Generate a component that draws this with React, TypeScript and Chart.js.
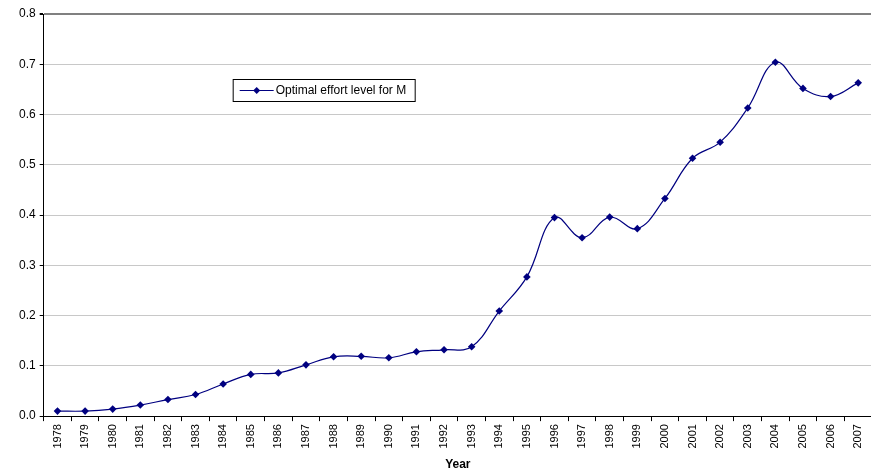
import React, { useEffect, useRef } from "react";
import { Chart, registerables } from "chart.js";

Chart.register(...registerables);

const years: string[] = [
  "1978", "1979", "1980", "1981", "1982", "1983", "1984", "1985", "1986", "1987",
  "1988", "1989", "1990", "1991", "1992", "1993", "1994", "1995", "1996", "1997",
  "1998", "1999", "2000", "2001", "2002", "2003", "2004", "2005", "2006", "2007",
];

const effortValues: number[] = [
  0.010, 0.010, 0.014, 0.022, 0.033, 0.043, 0.064, 0.083, 0.086, 0.102,
  0.118, 0.119, 0.116, 0.128, 0.132, 0.138, 0.209, 0.277, 0.395, 0.355,
  0.396, 0.373, 0.433, 0.513, 0.545, 0.613, 0.704, 0.652, 0.636, 0.663,
];

const seriesLabel = "Optimal effort level for M";
const xTitle = "Year";
const FONT = "'Liberation Sans', Arial, sans-serif";
const NAVY = "#000080";

const legendPlugin = {
  id: "boxLegend",
  afterDraw(chart: any) {
    const ctx = chart.ctx;
    const area = chart.chartArea;
    const x = area.left + 189;
    const y = area.top + 65;
    const w = 182;
    const h = 22;
    ctx.save();
    ctx.fillStyle = "#ffffff";
    ctx.fillRect(x, y, w, h);
    ctx.strokeStyle = "#000000";
    ctx.lineWidth = 1;
    ctx.strokeRect(x + 0.5, y + 0.5, w, h);
    const cy = y + h / 2 + 0.5;
    ctx.strokeStyle = NAVY;
    ctx.lineWidth = 1.2;
    ctx.beginPath();
    ctx.moveTo(x + 7, cy);
    ctx.lineTo(x + 41, cy);
    ctx.stroke();
    ctx.fillStyle = NAVY;
    ctx.beginPath();
    const cx = x + 24;
    const r = 3.5;
    ctx.moveTo(cx, cy - r);
    ctx.lineTo(cx + r, cy);
    ctx.lineTo(cx, cy + r);
    ctx.lineTo(cx - r, cy);
    ctx.closePath();
    ctx.fill();
    ctx.fillStyle = "#000000";
    ctx.font = `12px ${FONT}`;
    ctx.textBaseline = "middle";
    ctx.fillText(seriesLabel, x + 43, cy);
    ctx.restore();
  },
};

export default function App() {
  const ref = useRef<HTMLCanvasElement | null>(null);

  useEffect(() => {
    document.body.style.margin = "0";
    if (!ref.current) return;
    const chart = new Chart(ref.current, {
      type: "line",
      data: {
        labels: years,
        datasets: [
          {
            label: seriesLabel,
            data: effortValues,
            borderColor: NAVY,
            backgroundColor: NAVY,
            borderWidth: 1.2,
            pointStyle: "rectRot",
            pointRadius: 3.8,
            pointBorderWidth: 0,
            tension: 0.4,
            fill: false,
          },
        ],
      },
      options: {
        responsive: false,
        animation: false,
        devicePixelRatio: 1,
        layout: { padding: { left: 15, right: 0, top: 14, bottom: 2 } },
        plugins: {
          legend: { display: false },
          tooltip: { enabled: false },
        },
        scales: {
          x: {
            type: "category",
            offset: true,
            grid: {
              offset: true,
              drawOnChartArea: false,
              drawTicks: true,
              tickLength: 5,
              color: "#000000",
            },
            border: { color: "#000000", width: 1 },
            ticks: {
              minRotation: 90,
              maxRotation: 90,
              autoSkip: false,
              padding: 3,
              color: "#000000",
              font: { family: FONT, size: 11 },
            },
            title: {
              display: true,
              text: xTitle,
              color: "#000000",
              padding: { top: 6, bottom: 0 },
              font: { family: FONT, size: 12, weight: "bold" },
            },
          },
          y: {
            min: 0,
            max: 0.8,
            ticks: {
              stepSize: 0.1,
              padding: 4,
              color: "#000000",
              font: { family: FONT, size: 12 },
              callback: (v: any) => Number(v).toFixed(1),
            },
            grid: {
              color: (c: any) => (c.tick && c.tick.value >= 0.8 ? "#808080" : "#c8c8c8"),
              lineWidth: (c: any) => (c.tick && c.tick.value >= 0.8 ? 2 : 1),
              tickLength: 4,
              drawTicks: true,
              tickColor: "#000000",
            },
            border: { color: "#000000", width: 1 },
          },
        },
      },
      plugins: [legendPlugin],
    });
    return () => chart.destroy();
  }, []);

  return (
    <div style={{ width: 871, height: 474, overflow: "hidden" }}>
      <canvas ref={ref} width={876} height={474} style={{ display: "block" }} />
    </div>
  );
}
